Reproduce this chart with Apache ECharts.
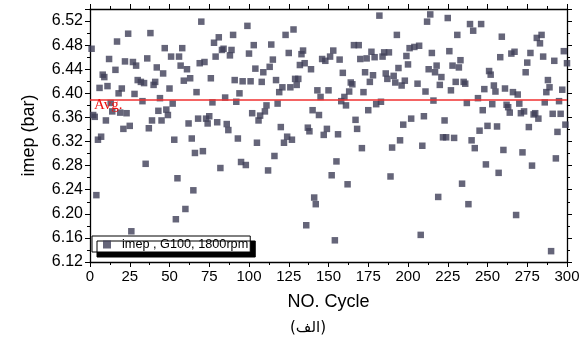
<!DOCTYPE html>
<html>
<head>
<meta charset="utf-8">
<script src="https://cdn.jsdelivr.net/npm/echarts@6/dist/echarts.min.js"></script>
<style>
  html, body { margin: 0; padding: 0; background: #fff; }
  #chart { width: 587px; height: 347px; }
</style>
</head>
<body>
<div id="chart"></div>
<script>
// Indicated mean effective pressure per engine cycle, [cycle, imep in bar]
const cycles001to060 = [
  [1,6.474],[2,6.364],[3,6.361],[4,6.231],[5,6.323],[6,6.409],[7,6.328],[8,6.431],[9,6.427],[10,6.355],
  [11,6.412],[12,6.457],[13,6.384],[14,6.370],[16,6.439],[17,6.486],[18,6.400],[19,6.368],[20,6.408],
  [21,6.341],[22,6.453],[23,6.367],[24,6.499],[25,6.346],[26,6.171],[27,6.452],[28,6.399],[29,6.446],[30,6.422],
  [32,6.419],[33,6.387],[34,6.417],[35,6.283],[36,6.458],[37,6.342],[38,6.500],[39,6.355],[40,6.414],
  [41,6.419],[42,6.443],[43,6.371],[44,6.392],[45,6.355],[46,6.433],[47,6.475],[48,6.373],[49,6.364],[50,6.408],
  [51,6.461],[52,6.383],[53,6.323],[54,6.191],[55,6.259],[56,6.461],[57,6.446],[58,6.475],[59,6.421],[60,6.208]
];
const cycles061to120 = [
  [61,6.440],[62,6.350],[63,6.425],[64,6.325],[65,6.239],[66,6.301],[67,6.402],[68,6.358],[69,6.450],[70,6.519],
  [71,6.304],[72,6.452],[73,6.358],[74,6.350],[75,6.362],[76,6.425],[77,6.385],[78,6.484],[79,6.461],[80,6.352],
  [81,6.493],[82,6.276],[83,6.472],[84,6.474],[85,6.393],[86,6.349],[87,6.339],[88,6.463],[89,6.472],[90,6.497],
  [91,6.422],[92,6.386],[93,6.325],[94,6.400],[95,6.286],[96,6.420],[98,6.281],[99,6.512],[100,6.466],
  [101,6.420],[102,6.367],[103,6.480],[104,6.441],[105,6.318],[106,6.355],[107,6.363],[108,6.419],[109,6.435],[110,6.370],
  [111,6.380],[112,6.272],[113,6.444],[114,6.481],[115,6.456],[116,6.296],[117,6.422],[118,6.383],[119,6.402],[120,6.344]
];
const cycles121to180 = [
  [121,6.410],[122,6.318],[123,6.497],[124,6.328],[125,6.467],[126,6.410],[127,6.323],[128,6.506],[129,6.424],[130,6.414],
  [131,6.424],[132,6.447],[133,6.465],[134,6.471],[135,6.450],[136,6.181],[137,6.343],[138,6.337],[139,6.440],[140,6.372],
  [141,6.227],[142,6.216],[143,6.405],[144,6.364],[145,6.394],[146,6.457],[147,6.331],[148,6.454],[149,6.341],[150,6.405],
  [151,6.461],[152,6.264],[153,6.471],[154,6.156],[155,6.287],[156,6.332],[157,6.456],[158,6.387],[159,6.434],[160,6.394],
  [161,6.380],[162,6.249],[163,6.403],[164,6.418],[165,6.415],[166,6.480],[167,6.356],[168,6.341],[169,6.480],[170,6.457],
  [171,6.309],[172,6.402],[173,6.435],[174,6.458],[175,6.372],[176,6.419],[177,6.469],[178,6.430],[179,6.460],[180,6.382]
];
const cycles181to240 = [
  [182,6.529],[183,6.386],[184,6.461],[185,6.468],[186,6.433],[187,6.424],[188,6.468],[189,6.262],[190,6.310],
  [191,6.429],[192,6.418],[193,6.497],[194,6.442],[195,6.322],[196,6.413],[197,6.348],[198,6.421],[199,6.462],[200,6.448],
  [201,6.475],[202,6.358],[204,6.477],[206,6.416],[207,6.479],[208,6.165],[209,6.313],[210,6.362],
  [211,6.403],[212,6.519],[213,6.440],[214,6.531],[215,6.467],[216,6.388],[217,6.435],[218,6.446],[219,6.228],[220,6.414],
  [221,6.427],[222,6.327],[223,6.355],[224,6.327],[225,6.525],[226,6.470],[227,6.405],[228,6.446],[229,6.326],[230,6.419],
  [231,6.497],[232,6.443],[233,6.455],[234,6.250],[235,6.419],[236,6.416],[237,6.384],[238,6.216],[239,6.515],[240,6.322]
];
const cycles241to300 = [
  [241,6.504],[242,6.309],[244,6.392],[245,6.338],[246,6.515],[247,6.372],[248,6.407],[249,6.282],[250,6.346],
  [251,6.437],[252,6.431],[253,6.382],[254,6.413],[255,6.403],[256,6.345],[257,6.268],[258,6.460],[259,6.494],[260,6.306],
  [261,6.408],[262,6.381],[263,6.377],[264,6.368],[265,6.466],[266,6.402],[267,6.469],[268,6.198],[269,6.398],[270,6.383],
  [271,6.367],[272,6.302],[273,6.370],[274,6.435],[275,6.451],[276,6.344],[277,6.467],[278,6.280],[279,6.365],[280,6.367],
  [281,6.492],[282,6.358],[283,6.483],[284,6.497],[285,6.461],[286,6.385],[287,6.402],[288,6.422],[289,6.410],[290,6.138],
  [291,6.366],[292,6.454],[293,6.292],[294,6.336],[295,6.387],[296,6.366],[297,6.406],[298,6.470],[299,6.348],[300,6.450]
];

// Mean value drawn as the reference line
const avgImep = 6.395;

const seriesName = 'imep , G100, 1800rpm';
const xTitle = 'NO. Cycle';
const yTitle = 'imep (bar)';
const caption = '(الف)';

const allCycles = [].concat(cycles001to060, cycles061to120, cycles121to180, cycles181to240, cycles241to300);

const chart = echarts.init(document.getElementById('chart'), null, { renderer: 'canvas' });

const axisBlack = { lineStyle: { color: '#000', width: 1.3 } };
const sansFont = 'Liberation Sans, Arial, sans-serif';

const xCommon = {
  type: 'value', min: 0, max: 300, interval: 25,
  axisLine: { show: true, onZero: false, ...axisBlack },
  axisTick: { show: true, length: 5, lineStyle: { color: '#000', width: 1 } },
  minorTick: { show: true, splitNumber: 2, length: 3, lineStyle: { color: '#000', width: 1 } },
  splitLine: { show: false }, minorSplitLine: { show: false }
};
const yCommon = {
  type: 'value', min: 6.12, max: 6.54, interval: 0.04,
  axisLine: { show: true, onZero: false, ...axisBlack },
  axisTick: { show: true, length: 5, lineStyle: { color: '#000', width: 1 } },
  minorTick: { show: true, splitNumber: 2, length: 3, lineStyle: { color: '#000', width: 1 } },
  splitLine: { show: false }, minorSplitLine: { show: false }
};

chart.setOption({
  backgroundColor: '#fff',
  animation: false,
  grid: { left: 90, right: 20, top: 9, bottom: 85, containLabel: false },
  legend: {
    left: 92, top: 236,
    orient: 'horizontal',
    data: [{ name: seriesName, icon: 'rect' }],
    itemWidth: 8, itemHeight: 8,
    padding: [2, 2, 1, 11],
    backgroundColor: '#fff',
    borderColor: '#000', borderWidth: 1, borderRadius: 0,
    shadowColor: '#000', shadowBlur: 0, shadowOffsetX: 5, shadowOffsetY: 5,
    textStyle: { fontFamily: sansFont, fontSize: 12.7, color: '#000', padding: [0, 0, 0, 6] },
    selectedMode: false
  },
  xAxis: [
    {
      ...xCommon, position: 'bottom',
      axisLabel: { show: true, fontFamily: sansFont, fontSize: 15, color: '#000', margin: 7 },
      name: xTitle, nameLocation: 'middle', nameGap: 31,
      nameTextStyle: { fontFamily: sansFont, fontSize: 18, color: '#000' }
    },
    { ...xCommon, position: 'top', axisLabel: { show: false } }
  ],
  yAxis: [
    {
      ...yCommon, position: 'left',
      axisLabel: {
        show: true, fontFamily: sansFont, fontSize: 16, color: '#000', margin: 7,
        showMaxLabel: false,
        formatter: v => v.toFixed(2)
      },
      name: yTitle, nameLocation: 'middle', nameGap: 52,
      nameTextStyle: { fontFamily: sansFont, fontSize: 18, color: '#000' }
    },
    { ...yCommon, position: 'right', axisLabel: { show: false } }
  ],
  series: [{
    name: seriesName,
    type: 'scatter',
    xAxisIndex: 0, yAxisIndex: 0,
    symbol: 'rect',
    symbolSize: 6.5,
    itemStyle: { color: '#3f3f57' },
    data: allCycles,
    markLine: {
      silent: true,
      symbol: ['none', 'none'],
      lineStyle: { color: '#f03030', width: 1.5, type: 'solid' },
      label: {
        show: true, position: 'insideStartBottom', formatter: 'Avg.',
        color: '#ee1111', fontFamily: 'Liberation Serif, Times New Roman, serif', fontSize: 15,
        distance: [4, -2]
      },
      data: [{ yAxis: avgImep }]
    }
  }],
  graphic: [{
    type: 'text',
    x: 308, y: 328,
    style: {
      text: caption,
      font: '15px "DejaVu Sans", sans-serif',
      fill: '#000',
      textAlign: 'center', textVerticalAlign: 'middle'
    }
  }]
});
</script>
</body>
</html>
